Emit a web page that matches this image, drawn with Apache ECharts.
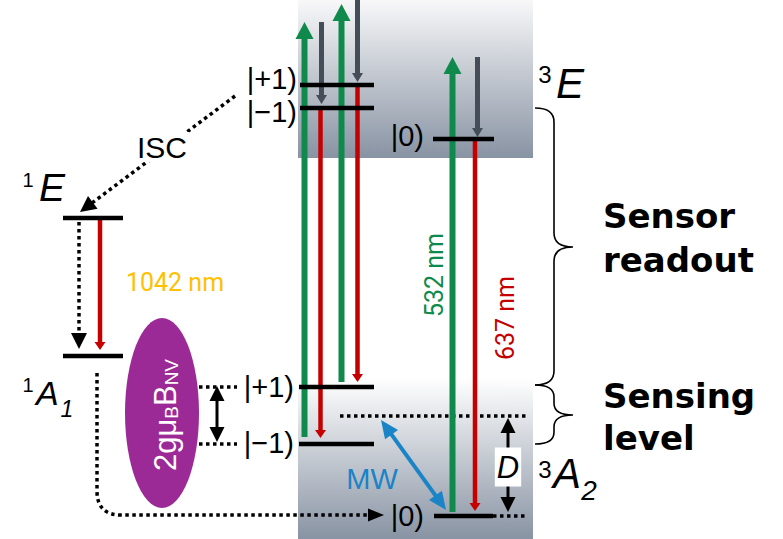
<!DOCTYPE html>
<html><head><meta charset="utf-8">
<script src="https://cdn.jsdelivr.net/npm/echarts@6/dist/echarts.min.js"></script>
<style>html,body{margin:0;padding:0;background:#fff}#c{width:783px;height:539px}</style>
</head><body><div id="c"></div>
<script>
// ---------- diagram data (diagram units: x 0..783 right, y 0..539 downward) ----------
const shadedBoxes = [[298, 533, 0, 158], [298, 533, 378, 539]];          // x0, x1, yTop, yBottom
const solidLevels = [[300,374,85],[300,374,108],[433,494,139],[63,123,218],[63,123,356],
                     [299,374,387],[299,374,444],[434,493,516]];            // x0, x1, y
const dottedLevels = [[340,528,416],[493,528,516],[199,237,387],[199,237,444]];
const greenUp  = [[304.5,437,22],[341.5,382,4],[452.5,512,57]];              // x, yFrom, yTip
const redDown  = [[320.5,110,438],[357.5,87,382],[475,141,511],[100,220,350]];
const grayDown = [[321.5,22,104],[357.5,0,82],[477.5,57,137]];
const dottedArrows = [[235,96,80,212],[79,222,79,349]];                      // x0,y0,xTip,yTip
const decayArrow = [[97,373,384,515]];                                        // xStart,yStart,xTip,yTip
const blackDoubleArrows = [[217,386,217,442],[508,418,508,512]];
const mwArrow = [[381,420,446,510]];
const braces = [[535,108,385,247],[535,385,444,415]];                        // x, yTop, yBottom, yTip
const zeemanEllipse = [[162,413,37,95]];                                     // cx, cy, rx, ry
const ellipseLabel = [['2gμ{s|B}B{s|NV}',165,415]];
const labels = [
  ['|+1)',297,79,'ket'],['|−1)',297,112,'ket'],['|0)',424,136,'ket'],
  ['|+1)',294,387,'ket'],['|−1)',294,443,'ket'],['|0)',424,516,'ket'],
  ['1',28,180,'supS'],['E',39,187,'termM'],
  ['3',545,74,'sup'],['E',556,83,'termL'],
  ['1',28,385,'supS'],['A',36,393,'termS'],['1',67,409,'subS'],
  ['3',545,469,'sup'],['A',553,473,'termL'],['2',589,490,'sub'],
  ['ISC',162,147,'isc'],
  ['1042 nm',175,282,'nm1042'],
  ['532 nm',434,275,'nm532'],
  ['637 nm',505,318,'nm637'],
  ['MW',372,479,'mw'],
  ['D',508,467,'dlabel'],
  ['Sensor',603,216,'bold'],['readout',603,260,'bold'],['Sensing',603,396,'bold'],['level',603,438,'bold']
];

// ---------- styles ----------
const GREEN='#0f8a4c', RED='#c40000', GRAY='#454d59', BLUE='#1a84c7', PURPLE='#9c2a96';
const textStyles = {
  ket:{fontSize:29,fontFamily:'Liberation Sans',align:'right',fill:'#000'},
  supS:{fontSize:20,fontFamily:'Liberation Sans',align:'center',fill:'#000'},
  sup:{fontSize:24,fontFamily:'Liberation Sans',align:'center',fill:'#000'},
  termM:{fontSize:39,fontFamily:'Liberation Sans',fontStyle:'italic',align:'left',fill:'#000'},
  termL:{fontSize:42,fontFamily:'Liberation Sans',fontStyle:'italic',align:'left',fill:'#000'},
  termS:{fontSize:34,fontFamily:'Liberation Sans',fontStyle:'italic',align:'left',fill:'#000'},
  subS:{fontSize:23,fontFamily:'Liberation Sans',fontStyle:'italic',align:'center',fill:'#000'},
  sub:{fontSize:28,fontFamily:'Liberation Sans',fontStyle:'italic',align:'center',fill:'#000'},
  isc:{fontSize:30,fontFamily:'Liberation Sans',align:'center',fill:'#000',backgroundColor:'#fff',padding:[0,2,0,2]},
  nm1042:{fontSize:25,fontFamily:'Roboto',align:'center',fill:'#ffc000'},
  nm532:{fontSize:25,fontFamily:'Roboto',align:'center',fill:GREEN,rot:true},
  nm637:{fontSize:25,fontFamily:'Roboto',align:'center',fill:RED,rot:true},
  mw:{fontSize:29,fontFamily:'Liberation Sans',align:'center',fill:BLUE},
  dlabel:{fontSize:31,fontFamily:'Liberation Sans',fontStyle:'italic',align:'center',fill:'#000',backgroundColor:'#fff',padding:[4,2,4,2]},
  bold:{fontSize:34,fontFamily:'DejaVu Sans',fontWeight:'bold',align:'left',fill:'#000'}
};

function arrowGroup(p0, p1, o) {
  const dx=p1[0]-p0[0], dy=p1[1]-p0[1], L=Math.hypot(dx,dy), ux=dx/L, uy=dy/L, px=-uy, py=ux;
  const back = o.hl*0.85;
  const s = o.both ? [p0[0]+ux*back, p0[1]+uy*back] : p0;
  const e = [p1[0]-ux*back, p1[1]-uy*back];
  const head=(t,vx,vy)=>({type:'polygon',shape:{points:[[t[0],t[1]],
      [t[0]-vx*o.hl+px*o.hw/2,t[1]-vy*o.hl+py*o.hw/2],[t[0]-vx*o.hl-px*o.hw/2,t[1]-vy*o.hl-py*o.hw/2]]},
      style:{fill:o.color}});
  const ch=[{type:'line',shape:{x1:s[0],y1:s[1],x2:e[0],y2:e[1]},
             style:{stroke:o.color,lineWidth:o.lw,lineDash:o.dash||null,lineCap:'butt'}}, head(p1,ux,uy)];
  if (o.both) ch.push(head(p0,-ux,-uy));
  return {type:'group',children:ch};
}

const chart = echarts.init(document.getElementById('c'), null, {renderer:'svg'});
const base = {type:'custom', coordinateSystem:'cartesian2d', clip:false, silent:true, animation:false};
const series = [
  Object.assign({}, base, {data:shadedBoxes, z:1, renderItem:(p,api)=>{
    const a=api.coord([api.value(0),api.value(2)]), b=api.coord([api.value(1),api.value(3)]);
    const top = p.dataIndex===0 ? '#f8f8f9' : '#ffffff';
    return {type:'rect',shape:{x:a[0],y:a[1],width:b[0]-a[0],height:b[1]-a[1]},
      style:{fill:{type:'linear',x:0,y:0,x2:0,y2:1,colorStops:[{offset:0,color:top},{offset:1,color:'#8893a3'}]}}};
  }}),
  Object.assign({}, base, {data:zeemanEllipse, z:2, renderItem:(p,api)=>{
    const c=api.coord([api.value(0),api.value(1)]), r=api.size([api.value(2),api.value(3)]);
    return {type:'ellipse',shape:{cx:c[0],cy:c[1],rx:r[0],ry:r[1]},style:{fill:PURPLE}};
  }}),
  Object.assign({}, base, {data:ellipseLabel, z:3, renderItem:(p,api)=>{
    const c=api.coord([api.value(1),api.value(2)]);
    return {type:'text',x:c[0],y:c[1],rotation:Math.PI/2,style:{text:ellipseLabel[p.dataIndex][0],
      fontSize:31,fontFamily:'Liberation Sans',fill:'#fff',align:'center',verticalAlign:'middle',
      rich:{s:{fontSize:19,fontFamily:'Liberation Sans',fill:'#fff',verticalAlign:'bottom',padding:[10,0,0,0]}}}};
  }}),
  Object.assign({}, base, {data:dottedLevels, z:4, renderItem:(p,api)=>{
    const a=api.coord([api.value(0),api.value(2)]), b=api.coord([api.value(1),api.value(2)]);
    return {type:'line',shape:{x1:a[0],y1:a[1],x2:b[0],y2:b[1]},style:{stroke:'#000',lineWidth:3.5,lineDash:[3.5,3.5]}};
  }}),
  Object.assign({}, base, {data:greenUp, z:5, renderItem:(p,api)=>
    arrowGroup(api.coord([api.value(0),api.value(1)]), api.coord([api.value(0),api.value(2)]),
      {color:GREEN,lw:6,hl:17,hw:18})}),
  Object.assign({}, base, {data:redDown, z:5, renderItem:(p,api)=>
    arrowGroup(api.coord([api.value(0),api.value(1)]), api.coord([api.value(0),api.value(2)]),
      {color:RED,lw:4.5,hl:8,hw:11})}),
  Object.assign({}, base, {data:grayDown, z:5, renderItem:(p,api)=>
    arrowGroup(api.coord([api.value(0),api.value(1)]), api.coord([api.value(0),api.value(2)]),
      {color:GRAY,lw:5,hl:9,hw:11})}),
  Object.assign({}, base, {data:dottedArrows, z:5, renderItem:(p,api)=>
    arrowGroup(api.coord([api.value(0),api.value(1)]), api.coord([api.value(2),api.value(3)]),
      {color:'#000',lw:3.5,hl:16,hw:16,dash:[3.5,3.5]})}),
  Object.assign({}, base, {data:decayArrow, z:5, renderItem:(p,api)=>{
    const s=api.coord([api.value(0),api.value(1)]), t=api.coord([api.value(2),api.value(3)]);
    const r=24, hl=16, hw=13;
    const d=`M${s[0]},${s[1]} L${s[0]},${t[1]-r} Q${s[0]},${t[1]} ${s[0]+r},${t[1]} L${t[0]-hl*0.85},${t[1]}`;
    return {type:'group',children:[
      {type:'path',shape:{pathData:d},style:{stroke:'#000',fill:null,lineWidth:3.5,lineDash:[3.5,3.5]}},
      {type:'polygon',shape:{points:[[t[0],t[1]],[t[0]-hl,t[1]-hw/2],[t[0]-hl,t[1]+hw/2]]},style:{fill:'#000'}}]};
  }}),
  Object.assign({}, base, {data:blackDoubleArrows, z:5, renderItem:(p,api)=>
    arrowGroup(api.coord([api.value(0),api.value(1)]), api.coord([api.value(2),api.value(3)]),
      {color:'#000',lw:3,hl:15,hw:15,both:true})}),
  Object.assign({}, base, {data:mwArrow, z:5, renderItem:(p,api)=>
    arrowGroup(api.coord([api.value(0),api.value(1)]), api.coord([api.value(2),api.value(3)]),
      {color:BLUE,lw:4,hl:18,hw:16,both:true})}),
  Object.assign({}, base, {data:solidLevels, z:6, renderItem:(p,api)=>{
    const a=api.coord([api.value(0),api.value(2)]), b=api.coord([api.value(1),api.value(2)]);
    return {type:'line',shape:{x1:a[0],y1:a[1],x2:b[0],y2:b[1]},style:{stroke:'#000',lineWidth:4.5}};
  }}),
  Object.assign({}, base, {data:braces, z:6, renderItem:(p,api)=>{
    const top=api.coord([api.value(0),api.value(1)]), bot=api.coord([api.value(0),api.value(2)]),
          tip=api.coord([api.value(0),api.value(3)]);
    const x0=top[0], xv=x0+19, xt=x0+38, r=Math.min(14,(bot[1]-top[1])/5);
    const d=`M${x0},${top[1]} Q${xv},${top[1]} ${xv},${top[1]+r} L${xv},${tip[1]-r} Q${xv},${tip[1]} ${xt},${tip[1]}`+
            ` Q${xv},${tip[1]} ${xv},${tip[1]+r} L${xv},${bot[1]-r} Q${xv},${bot[1]} ${x0},${bot[1]}`;
    return {type:'path',shape:{pathData:d},style:{stroke:'#000',fill:null,lineWidth:1.6}};
  }}),
  Object.assign({}, base, {data:labels.map(l=>[l[1],l[2]]), z:8, renderItem:(p,api)=>{
    const l=labels[p.dataIndex], st=Object.assign({},textStyles[l[3]]), c=api.coord([api.value(0),api.value(1)]);
    const rot=st.rot; delete st.rot;
    return {type:'text',x:c[0],y:c[1],rotation:rot?Math.PI/2:0,
      style:Object.assign(st,{text:l[0],verticalAlign:'middle'})};
  }})
];

chart.setOption({
  animation:false,
  grid:{left:0,right:0,top:0,bottom:0},
  xAxis:{type:'value',min:0,max:783,show:false},
  yAxis:{type:'value',min:0,max:539,inverse:true,show:false},
  series
});
</script></body></html>
